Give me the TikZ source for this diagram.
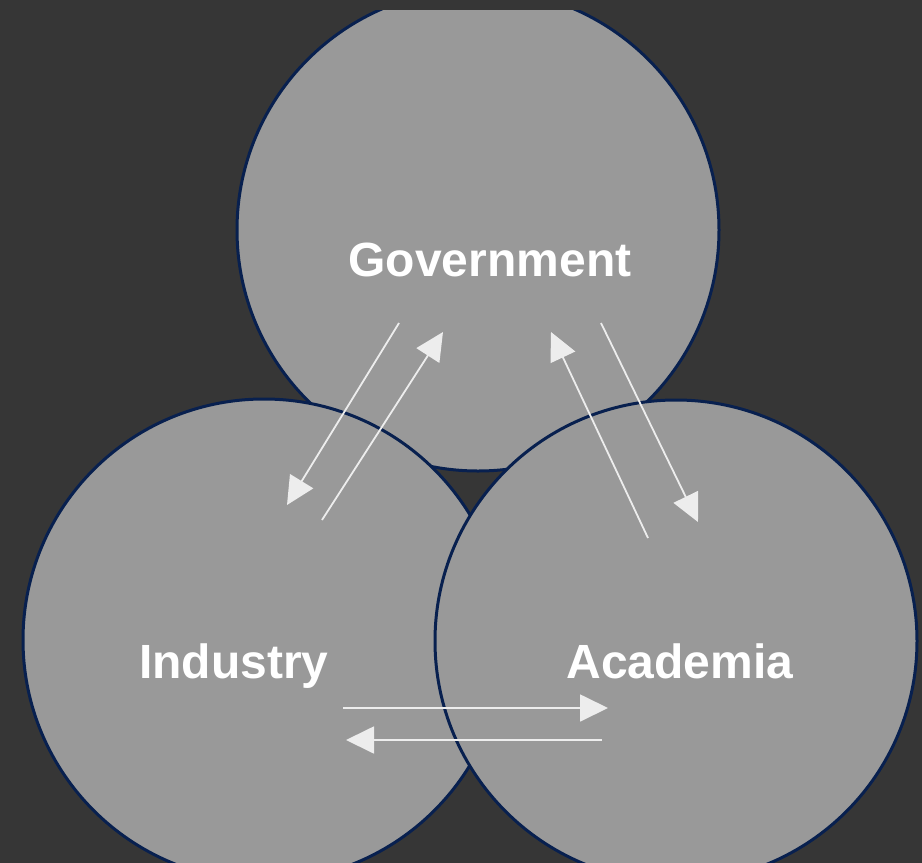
\documentclass[tikz,border=0pt]{standalone}
\usepackage{fontspec}
\setmainfont{Liberation Sans}
\usetikzlibrary{arrows.meta}
\definecolor{bgdark}{HTML}{363636}
\definecolor{circfill}{HTML}{999999}
\definecolor{circline}{HTML}{08204F}
\definecolor{arrowcol}{HTML}{EDEDED}
\tikzset{
  sector/.style={circle, draw=circline, fill=circfill, line width=3pt, inner sep=0pt, minimum size=482pt},
  label/.style={text=white, font=\fontsize{48}{48}\selectfont\bfseries, inner sep=0pt, anchor=base},
  flow/.style={draw=arrowcol, line width=1.8pt, -{Triangle[length=28pt, width=27pt]}},
}
\begin{document}
\begin{tikzpicture}[x=1pt, y=-1pt]
\fill[bgdark] (0,0) rectangle (922,863);
\useasboundingbox (0,0) rectangle (922,863);
\begin{scope}
  \clip (0,10) rectangle (922,863);
  \node[sector] (gov) at (478,230) {};
\end{scope}
\node[sector] (ind) at (264,640) {};
\node[sector] (aca) at (676,641) {};
\node[label] (govt) at (490,276) {Government};
\node[label] (indt) at (234,678) {Industry};
\node[label] (acat) at (680,678) {Academia};
\coordinate (a1s) at (399,323);
\coordinate (a1e) at (287,505);
\coordinate (a2s) at (322,520);
\coordinate (a2e) at (443,332);
\coordinate (a3s) at (648,538);
\coordinate (a3e) at (551,332);
\coordinate (a4s) at (601,323);
\coordinate (a4e) at (698,522);
\coordinate (a5s) at (343,708);
\coordinate (a5e) at (608,708);
\coordinate (a6s) at (602,740);
\coordinate (a6e) at (346,740);
\draw[flow] (a1s) -- (a1e);
\draw[flow] (a2s) -- (a2e);
\draw[flow] (a3s) -- (a3e);
\draw[flow] (a4s) -- (a4e);
\draw[flow] (a5s) -- (a5e);
\draw[flow] (a6s) -- (a6e);
\end{tikzpicture}
\end{document}
